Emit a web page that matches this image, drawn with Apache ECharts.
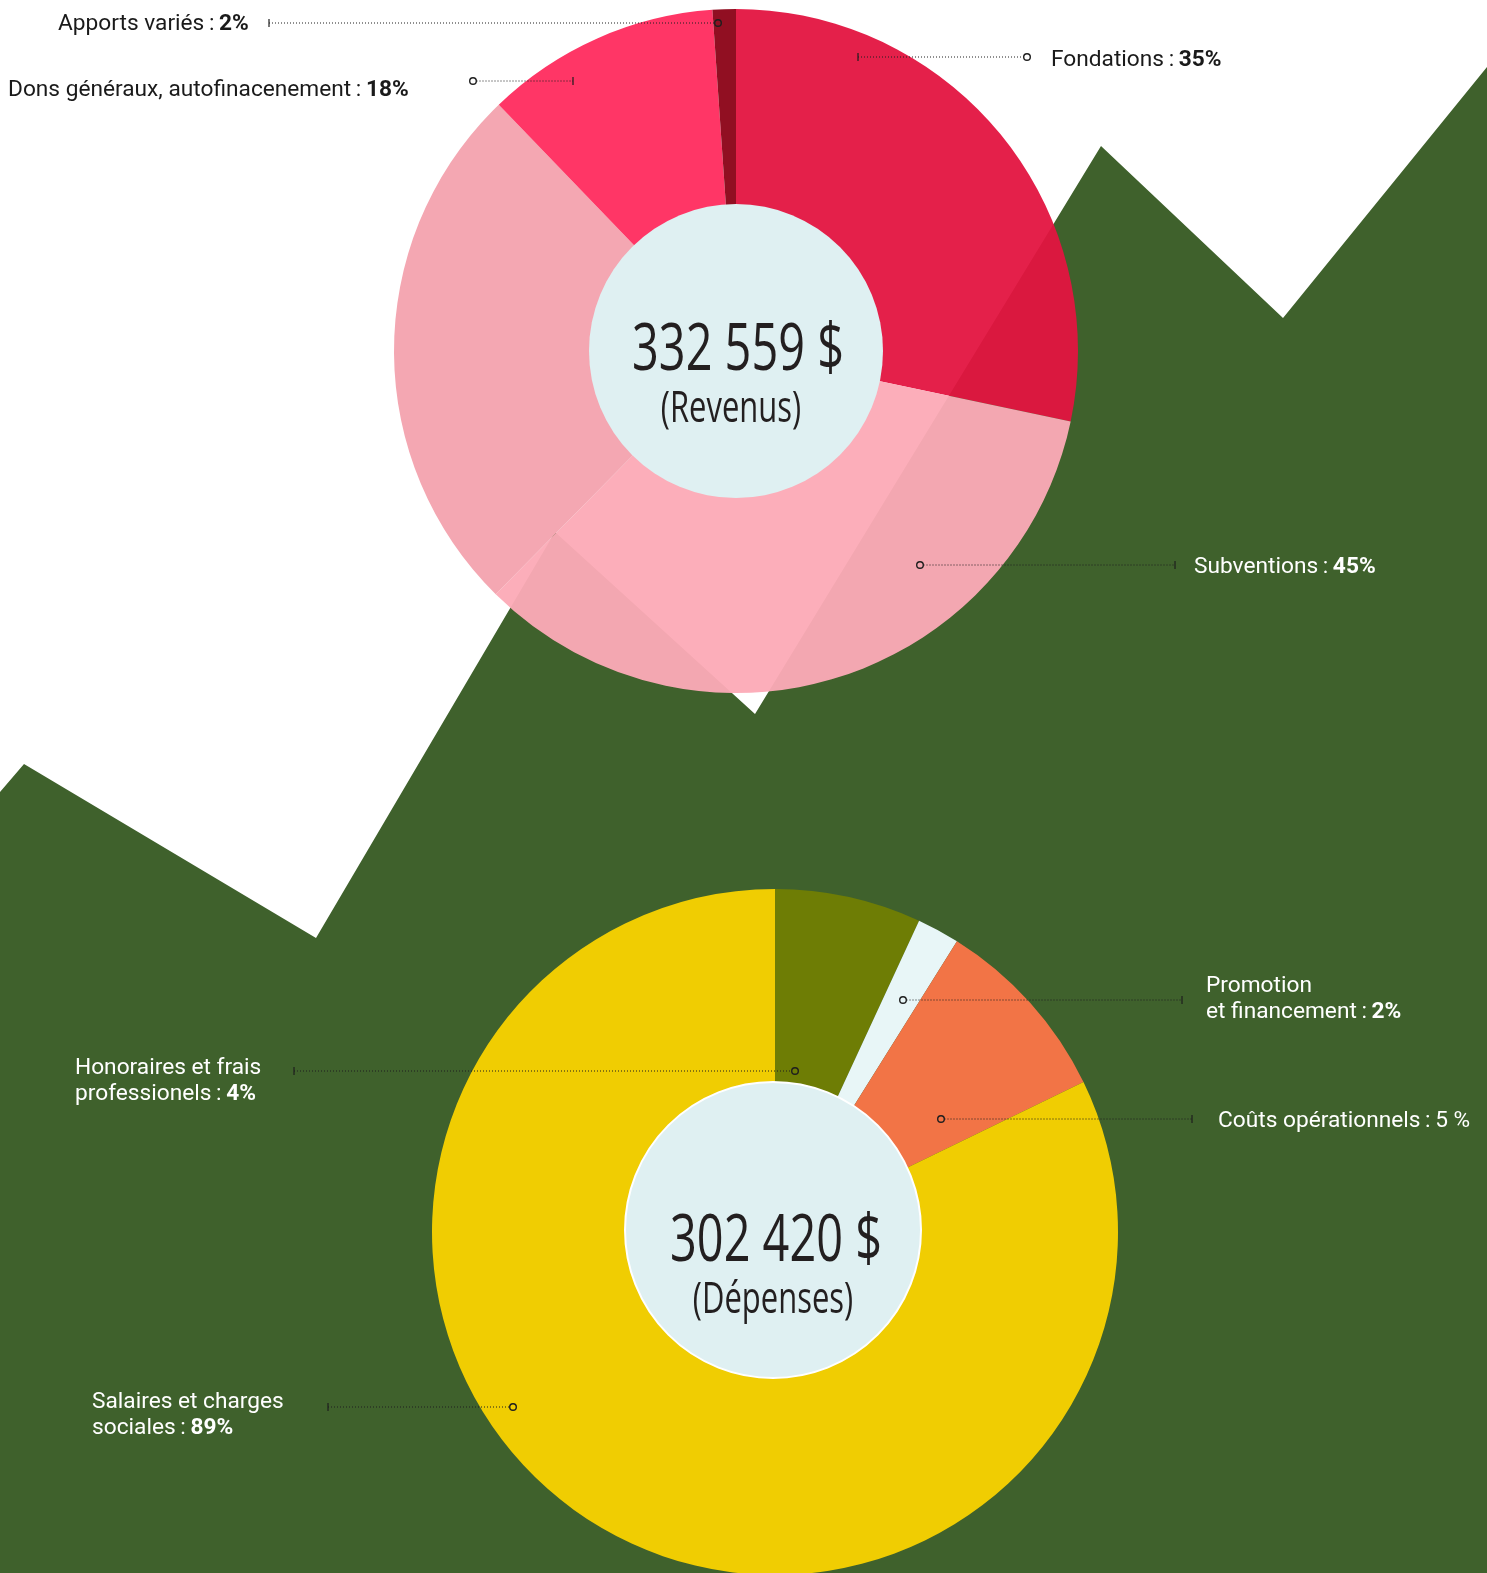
<!DOCTYPE html>
<html>
<head>
<meta charset="utf-8">
<script src="https://cdn.jsdelivr.net/npm/echarts@6/dist/echarts.min.js"></script>
<style>
  html, body { margin: 0; padding: 0; background: #fff; }
  #main { width: 1487px; height: 1573px; }
</style>
</head>
<body>
<div id="main"></div>
<script>
var revNames = ['Fondations', 'Subventions', 'Subventions', 'Dons généraux, autofinacenement', 'Apports variés'];
var revValues = [28.3, 34.1, 25.4, 11.1, 1.1];
var revColors = ['rgba(227,20,64,0.95)', 'rgba(252,170,183,0.955)', '#f4a7b2', '#ff3666', '#910f22'];
var revTotal = ['332 559 $', '(Revenus)'];

// Dépenses
var depNames = ['Honoraires et frais professionels', 'Promotion et financement', 'Coûts opérationnels', 'Salaires et charges sociales'];
var depValues = [6.9, 2.0, 8.9, 82.2];
var depColors = ['#6e7d05', '#e8f6f7', '#f27446', '#f0cd02'];
var depTotal = ['302 420 $', '(Dépenses)'];

// textes des étiquettes (pourcentages affichés)
var revPct = ['35%', '45%', '18%', '2%'];
var depPct = ['4%', '2%', '5 %', '89%'];

// fond : la montagne verte
var mountain = [[0, 792], [24, 764], [316, 938], [555, 532], [755, 714], [1101, 146], [1283, 318], [1487, 67], [1487, 1573], [0, 1573]];

var FONT = 'Roboto';
var FS = 22.7;
var SP = '\u2009:\u2009';

function leader(x1, x2, y, dotAt) {
    var cx = dotAt === 'left' ? x1 : x2;
    var tx = dotAt === 'left' ? x2 : x1;
    return [
        { type: 'line', z: 100, silent: true,
          shape: { x1: dotAt === 'left' ? x1 + 3.5 : x1, y1: y, x2: dotAt === 'left' ? x2 : x2 - 3.5, y2: y },
          style: { stroke: '#1e1e1e', lineWidth: 1, lineDash: [1, 2] } },
        { type: 'circle', z: 100, silent: true,
          shape: { cx: cx, cy: y, r: 3.3 },
          style: { fill: 'none', stroke: '#1e1e1e', lineWidth: 1.4 } },
        { type: 'line', z: 100, silent: true,
          shape: { x1: tx, y1: y - 4, x2: tx, y2: y + 4 },
          style: { stroke: '#1e1e1e', lineWidth: 1.2 } }
    ];
}

function label(x, y, txt, color) {
    return {
        type: 'text', z: 100, x: x, y: y, silent: true,
        style: {
            text: txt, fill: color, fontFamily: FONT, fontSize: FS, fontWeight: 400,
            verticalAlign: 'middle', lineHeight: 26,
            rich: {
                b: { fill: color, fontFamily: FONT, fontSize: FS, fontWeight: 700, lineHeight: 26 }
            }
        }
    };
}

function total(x, y, x2, lines) {
    return [
        { type: 'group', x: x, y: y, scaleX: 0.71, silent: true, z: 100,
          children: [{ type: 'text', z: 100,
            style: { text: lines[0], fill: '#231f20', fontFamily: '"Open Sans"', fontSize: 66,
                     align: 'center', verticalAlign: 'middle' } }] },
        { type: 'group', x: x2, y: y + 59, scaleX: 0.72, silent: true, z: 100,
          children: [{ type: 'text', z: 100,
            style: { text: lines[1], fill: '#231f20', fontFamily: '"Open Sans"', fontSize: 43,
                     align: 'center', verticalAlign: 'middle' } }] }
    ];
}

function pieData(names, values, colors) {
    return values.map(function (v, i) {
        return { name: names[i], value: v, itemStyle: { color: colors[i] } };
    });
}

var graphics = [
    { type: 'polygon', z: 0, silent: true, shape: { points: mountain }, style: { fill: '#3f612c' } }
];

graphics = graphics.concat(
    label(58, 24, 'Apports variés' + SP + '{b|' + revPct[3] + '}', '#1a1a1a'),
    leader(269, 718, 23, 'right'),
    label(8, 90, 'Dons généraux, autofinacenement' + SP + '{b|' + revPct[2] + '}', '#1a1a1a'),
    leader(473, 573, 81, 'left'),
    label(1051, 60, 'Fondations' + SP + '{b|' + revPct[0] + '}', '#1a1a1a'),
    leader(858, 1027, 57, 'right'),
    label(1194, 567, 'Subventions' + SP + '{b|' + revPct[1] + '}', '#ffffff'),
    leader(920, 1175, 565, 'left'),

    label(1206, 999, 'Promotion\net financement' + SP + '{b|' + depPct[1] + '}', '#ffffff'),
    leader(903, 1182, 1000, 'left'),
    label(1218, 1121, 'Coûts opérationnels' + SP + depPct[2], '#ffffff'),
    leader(941, 1192, 1119, 'left'),
    label(75, 1081, 'Honoraires et frais\nprofessionels' + SP + '{b|' + depPct[0] + '}', '#ffffff'),
    leader(294, 795, 1071, 'right'),
    label(92, 1415, 'Salaires et charges\nsociales' + SP + '{b|' + depPct[3] + '}', '#ffffff'),
    leader(328, 513, 1407, 'right'),

    total(738, 351, 731, revTotal),
    total(776, 1242, 773, depTotal)
);

var common = {
    type: 'pie',
    silent: true,
    startAngle: 90,
    clockwise: true,
    label: { show: false },
    labelLine: { show: false },
    emphasis: { disabled: true }
};

var chart = echarts.init(document.getElementById('main'), null, { renderer: 'canvas' });
chart.setOption({
    backgroundColor: '#ffffff',
    animation: false,
    series: [
        Object.assign({}, common, {
            name: 'Revenus', center: [736, 351], radius: [140, 342],
            itemStyle: { borderWidth: 0 },
            data: pieData(revNames, revValues, revColors)
        }),
        Object.assign({}, common, {
            name: 'centre revenus', center: [736, 351], radius: [0, 147],
            itemStyle: { borderWidth: 0 },
            data: [{ value: 1, itemStyle: { color: '#dff0f2' } }]
        }),
        Object.assign({}, common, {
            name: 'Dépenses', center: [775, 1232], radius: [140, 343],
            itemStyle: { borderWidth: 0 },
            data: pieData(depNames, depValues, depColors)
        }),
        Object.assign({}, common, {
            name: 'centre dépenses', center: [773, 1230], radius: [0, 148],
            itemStyle: { borderWidth: 2, borderColor: '#ffffff' },
            data: [{ value: 1, itemStyle: { color: '#dff0f2' } }]
        })
    ],
    graphic: graphics
});
</script>
</body>
</html>
